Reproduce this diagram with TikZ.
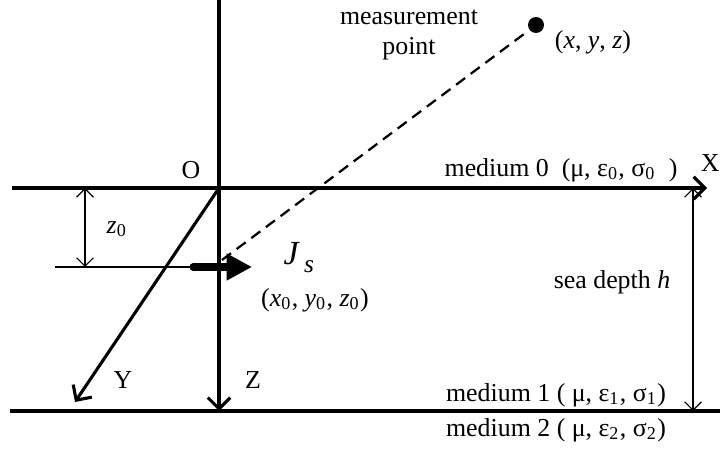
\documentclass[tikz,border=0pt]{standalone}
\usepackage{fontspec}
\setmainfont{Liberation Serif}
\usetikzlibrary{arrows.meta}
\tikzset{
  axis/.style={line width=1.1pt,-{Straight Barb[length=4pt,width=8pt]}},
  dimline/.style={line width=0.4pt,{Straight Barb[length=3pt,width=6pt]}-{Straight Barb[length=3pt,width=6pt]}},
  lbl/.style={font=\fontsize{9.2}{10.6}\selectfont,inner sep=1pt},
}

\begin{document}
\begin{tikzpicture}[scale=0.5]
  \useasboundingbox (0,0) rectangle (18,11.25);
  % axes and interfaces
  \coordinate (O) at (5.475,6.55);
  \coordinate (Otop) at (5.475,11.25);
  \coordinate (Zend) at (5.475,0.975);
  \coordinate (Yend) at (1.875,1.2);
  \coordinate (Xstart) at (0.3,6.55);
  \coordinate (Xend) at (17.675,6.55);
  \coordinate (Bstart) at (0.25,0.975);
  \coordinate (Bend) at (18,0.975);
  \draw[line width=1.1pt] (Otop) -- (O);
  \draw[axis] (Xstart) -- (Xend);
  \draw[axis] (O) -- (Zend);
  \draw[axis] (O) -- (Yend);
  \draw[line width=1.1pt] (Bstart) -- (Bend);
  \node[lbl] (lO) at (4.775,7.0) {O};
  \node[lbl,anchor=east,inner sep=0pt] (lX) at (18,7.175) {X};
  \node[lbl] (lY) at (3.075,1.75) {Y};
  \node[lbl] (lZ) at (6.325,1.75) {Z};
  % sea depth
  \coordinate (Htop) at (17.325,6.55);
  \coordinate (Hbot) at (17.325,0.975);
  \draw[dimline] (Htop) -- (Hbot);
  \node[lbl] (depth) at (15.3,4.2) {sea depth \textit{h}};
  % source depth
  \coordinate (Ztop) at (2.125,6.55);
  \coordinate (Zbot) at (2.125,4.575);
  \coordinate (lead) at (1.375,4.575);
  \coordinate (tail) at (4.825,4.575);
  \coordinate (head) at (6.3,4.575);
  \draw[dimline] (Ztop) -- (Zbot);
  \draw[line width=0.4pt] (lead) -- (tail);
  \node[lbl] (lz0) at (2.925,5.525) {\textit{z}\textsubscript{0}};
  \draw[line width=2.5pt,line cap=round,-{Triangle[length=9pt,width=9pt]}] (tail) -- (head);
  \node[anchor=base west,inner sep=0pt] (Js) at (7.075,4.625)
    {\fontsize{12}{14}\selectfont\textit{J}\kern1.5pt\raisebox{-2.8pt}{\fontsize{9}{10}\selectfont\textit{s}}};
  \node[lbl] (src) at (7.875,3.75) {(\textit{x}\textsubscript{0}, \textit{y}\textsubscript{0}, \textit{z}\textsubscript{0})};
  % measurement point
  \coordinate (srcpt) at (5.55,4.75);
  \node[circle,fill,inner sep=0pt,minimum size=2mm] (meas) at (13.4,10.625) {};
  \draw[line width=0.8pt,dash pattern=on 4pt off 2.5pt] (srcpt) -- (meas);
  \node[lbl] (lmeas) at (14.825,10.2) {(\textit{x}, \textit{y}, \textit{z})};
  \node[lbl,align=center] (mtext) at (10.225,10.375) {measurement\\point};
  % media
  \node[lbl] (m0) at (14.025,7.0) {medium 0~~(μ, ε\textsubscript{0}, σ\textsubscript{0}~~)};
  \node[lbl] (m1) at (13.9,1.375) {medium 1 ( μ, ε\textsubscript{1}, σ\textsubscript{1})};
  \node[lbl] (m2) at (13.9,0.5) {medium 2 ( μ, ε\textsubscript{2}, σ\textsubscript{2})};
\end{tikzpicture}
\end{document}
